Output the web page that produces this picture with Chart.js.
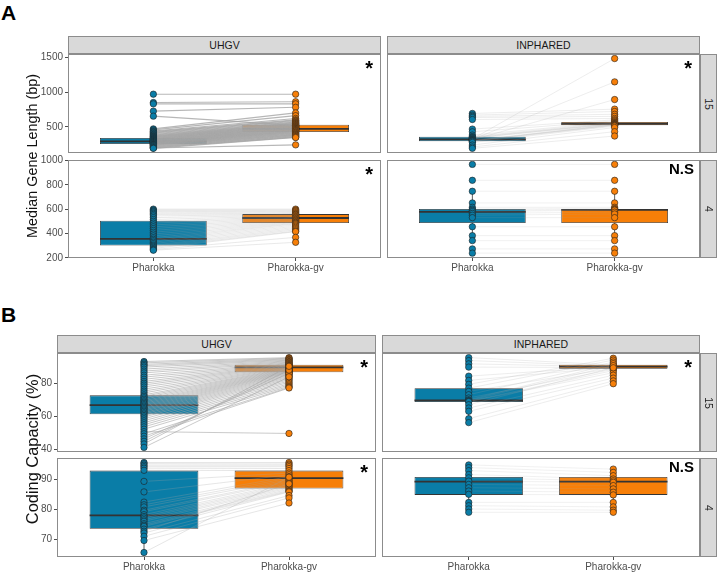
<!DOCTYPE html>
<html>
<head>
<meta charset="utf-8">
<script src="https://cdn.jsdelivr.net/npm/chart.js"></script>
<style>
  body { margin: 0; background: #fff; font-family: "Liberation Sans", Arial, sans-serif; }
  #fig { position: relative; width: 720px; height: 572px; overflow: hidden; }
  #fig canvas { position: absolute; }
  .strip { position: absolute; box-sizing: border-box; background: #d9d9d9; border: 1px solid #8c8c8c;
           color: #1a1a1a; font-size: 10.5px; display: flex; align-items: center; justify-content: center; }
  .strip.side span { display: block; transform: rotate(90deg); }
  .tag { position: absolute; font-weight: bold; font-size: 21px; line-height: 1; color: #000; }
  .ylab { position: absolute; white-space: nowrap; color: #111; line-height: 1;
          transform: translate(-50%, -50%) rotate(-90deg); }
  .sig { position: absolute; font-weight: bold; line-height: 1; color: #000; text-align: right; }
</style>
</head>
<body>
<div id="fig"></div>
<script>
// ---- data ----
const groups = ['Pharokka', 'Pharokka-gv'];
const databases = ['UHGV', 'INPHARED'];
const kmerRows = ['15', '4'];

// A: median gene length (bp)
const aUhgv15Pharokka = [969, 849, 830, 725, 653, 470, 455, 440, 430, 420, 410, 400, 390, 380, 370, 362, 355, 348, 340, 334,
  328, 322, 316, 310, 305, 300, 295, 290, 285, 280, 275, 270, 265, 260, 255, 250, 245, 240, 235, 228, 220, 212, 205, 198, 194, 190];
const aUhgv15Gv = [969, 860, 830, 780, 520, 700, 660, 620, 600, 590, 580, 570, 560, 552, 545, 538, 530, 524, 518, 512,
  506, 500, 494, 488, 482, 476, 470, 464, 458, 452, 446, 440, 434, 428, 420, 412, 404, 396, 388, 380, 372, 364, 356, 350, 240, 345];
const aUhgv4Pharokka = [600, 592, 584, 576, 566, 556, 544, 530, 515, 500, 485, 470, 455, 440, 425, 410, 395, 380, 365, 352,
  340, 328, 316, 304, 295, 286, 276, 268, 262];
const aUhgv4Gv = [600, 592, 585, 578, 570, 563, 557, 551, 545, 539, 533, 527, 521, 515, 509, 503, 497, 491, 485, 479,
  470, 460, 450, 440, 430, 420, 415, 368, 327];
const aInph15Pharokka = [692, 668, 650, 633, 605, 467, 428, 381, 360, 350, 342, 335, 325, 318, 312, 305, 300, 295, 290, 275, 237, 210, 190];
const aInph15Gv = [754, 720, 680, 650, 620, 600, 585, 570, 560, 550, 545, 540, 1482, 1146, 892, 535, 530, 525, 520, 510, 490, 430, 367];
const aInph4Pharokka = [968, 837, 747, 651, 615, 600, 590, 580, 565, 550, 530, 455, 382, 341, 273, 238];
const aInph4Gv = [968, 837, 747, 651, 615, 605, 598, 592, 575, 560, 530, 455, 382, 341, 273, 238];

// B: coding capacity (%)
const bUhgv15Pharokka = [93.3, 92.5, 91.6, 90.8, 89.9, 88.7, 87.5, 86.4, 85.0, 83.8, 82.5, 81.2, 80.1, 79.0, 77.8, 76.5,
  75.3, 74.2, 73.0, 72.1, 71.2, 70.3, 69.4, 68.6, 67.8, 67.0, 66.2, 65.4, 64.6, 63.8, 63.0, 62.1, 61.3, 60.4, 59.5, 58.4,
  57.2, 56.0, 54.8, 53.5, 52.1, 50.6, 49.3, 47.8, 46.2, 44.7, 43.1, 41.0];
const bUhgv15Gv = [95.7, 95.3, 94.9, 94.5, 94.1, 93.7, 93.3, 92.9, 92.5, 92.1, 91.8, 91.5, 91.2, 90.9, 90.6, 90.3,
  90.0, 89.7, 89.4, 89.1, 88.8, 88.5, 88.2, 87.9, 87.6, 87.3, 87.0, 86.7, 86.3, 85.9, 85.4, 84.9, 84.3, 83.7, 83.0, 82.3,
  81.5, 80.7, 79.8, 79.0, 78.2, 49.5, 77.6, 77.2, 86.2, 88.1, 90.4, 84.0];
const bUhgv4Pharokka = [95.5, 95.1, 94.6, 94.1, 93.6, 92.9, 89.2, 85.7, 82.3, 81.4, 80.7, 79.6, 79.1, 78.1, 77.5, 77.0,
  76.4, 75.9, 75.1, 74.6, 74.2, 73.3, 72.6, 72.0, 70.9, 69.5, 65.5];
const bUhgv4Gv = [95.5, 95.0, 94.6, 94.1, 93.5, 92.8, 92.0, 91.4, 90.8, 90.3, 89.8, 89.4, 89.0, 88.6, 88.2, 87.8,
  87.4, 87.0, 86.6, 86.2, 85.9, 85.7, 88.4, 84.5, 83.7, 82.0, 90.6];
const bInph15Pharokka = [95.7, 93.9, 91.9, 89.9, 84.4, 81.8, 79.4, 77.1, 75.1, 73.1, 71.1, 70.0, 69.5, 69.1, 68.9, 67.0, 65.0, 63.0, 58.5, 56.1];
const bInph15Gv = [91.2, 90.6, 90.1, 89.7, 90.3, 89.9, 95.3, 94.2, 89.2, 93.0, 88.6, 92.0, 90.8, 87.8, 86.5, 89.5, 85.0, 83.2, 81.5, 79.8];
const bInph4Pharokka = [94.7, 93.8, 92.8, 91.5, 90.4, 89.3, 88.2, 87.1, 86.0, 84.9, 82.2, 81.1, 80.0, 78.9];
const bInph4Gv = [93.3, 92.2, 91.1, 90.0, 89.4, 88.9, 87.8, 86.7, 85.6, 84.7, 82.2, 80.7, 79.6, 78.9];

// box stats per group: [lower whisker, q1, median, q3, upper whisker]
const aUhgv15Box = [[190, 252, 289, 338, 470], [350, 424, 471, 529, 700]];
const aUhgv4Box = [[262, 300, 355, 504, 600], [415, 486, 527, 559, 600]];
const aInph15Box = [[210, 292, 320, 358, 428], [490, 521, 543, 569, 620]];
const aInph4Box = [[341, 486, 578, 602, 747], [341, 486, 594, 602, 747]];
const bUhgv15Box = [[44.7, 61.2, 66.8, 72.7, 89.9], [80.7, 86.8, 89.8, 91.4, 95.7]];
const bUhgv4Box = [[65.5, 73.4, 77.9, 92.8, 95.5], [82.0, 86.8, 90.3, 92.8, 95.5]];
const bInph15Box = [[58.5, 68.7, 69.6, 77.0, 84.4], [85.0, 88.9, 90.2, 91.4, 94.2]];
const bInph4Box = [[78.9, 84.7, 89.1, 90.7, 94.7], [78.9, 84.7, 89.1, 90.7, 93.3]];

// axis limits and ticks
const aRange15 = [123, 1547], aTicks15 = [500, 1000, 1500];
const aRange4 = [198, 1004], aTicks4 = [200, 400, 600, 800, 1000];
const bRange15 = [38.2, 98.5], bTicks15 = [40, 60, 80];
const bRange4 = [64, 97], bTicks4 = [70, 80, 90];

// significance labels: [UHGV 15, INPHARED 15, UHGV 4, INPHARED 4]
const aSig = ['*', '*', '*', 'N.S'];
const bSig = ['*', '*', '*', 'N.S'];

// ---- styling ----
const FONT = '"Liberation Sans", Arial, sans-serif';
const colors = ['#0a7da7', '#f77f08'];
const PAD = 8, YW = 40, XH = 20;
Chart.defaults.font.family = FONT;

const facets = [
  { pos: [68, 54, 381, 153], y: true, x: false, ph: aUhgv15Pharokka, gv: aUhgv15Gv, box: aUhgv15Box, range: aRange15, ticks: aTicks15, alpha: 0.8, lw: 1.1 },
  { pos: [387, 54, 700, 153], y: false, x: false, ph: aInph15Pharokka, gv: aInph15Gv, box: aInph15Box, range: aRange15, ticks: aTicks15, alpha: 0.25, lw: 0.8 },
  { pos: [68, 160, 381, 258], y: true, x: true, ph: aUhgv4Pharokka, gv: aUhgv4Gv, box: aUhgv4Box, range: aRange4, ticks: aTicks4, alpha: 0.3, lw: 0.8 },
  { pos: [387, 160, 700, 258], y: false, x: true, ph: aInph4Pharokka, gv: aInph4Gv, box: aInph4Box, range: aRange4, ticks: aTicks4, alpha: 0.2, lw: 0.8 },
  { pos: [57, 353, 376, 452], y: true, x: false, ph: bUhgv15Pharokka, gv: bUhgv15Gv, box: bUhgv15Box, range: bRange15, ticks: bTicks15, alpha: 0.65, lw: 0.9 },
  { pos: [382, 353, 700, 452], y: false, x: false, ph: bInph15Pharokka, gv: bInph15Gv, box: bInph15Box, range: bRange15, ticks: bTicks15, alpha: 0.25, lw: 0.8 },
  { pos: [57, 458, 376, 557], y: true, x: true, ph: bUhgv4Pharokka, gv: bUhgv4Gv, box: bUhgv4Box, range: bRange4, ticks: bTicks4, alpha: 0.35, lw: 0.8 },
  { pos: [382, 458, 700, 557], y: false, x: true, ph: bInph4Pharokka, gv: bInph4Gv, box: bInph4Box, range: bRange4, ticks: bTicks4, alpha: 0.2, lw: 0.8 },
];

const fig = document.getElementById('fig');

// grey frame round each panel, drawn over the data like ggplot's panel.border
const panelBorder = {
  id: 'panelBorder',
  afterDatasetsDraw(chart) {
    const { ctx, chartArea: a } = chart;
    ctx.save();
    ctx.strokeStyle = '#8c8c8c';
    ctx.lineWidth = 1;
    ctx.strokeRect(a.left + 0.5, a.top + 0.5, a.width - 1, a.height - 1);
    ctx.restore();
  }
};

function buildDatasets(f) {
  const sets = [];
  // boxes
  sets.push({
    type: 'bar',
    data: f.box.map((b, i) => ({ x: i + 1, y: [b[1], b[3]] })),
    backgroundColor: colors, borderColor: '#333', borderWidth: 0.8, borderSkipped: false,
    barPercentage: 0.75, categoryPercentage: 1, order: 5
  });
  f.box.forEach((b, i) => {
    // whiskers
    sets.push({
      type: 'line',
      data: [{ x: i + 1, y: b[0] }, { x: i + 1, y: b[1] }, { x: i + 1, y: null }, { x: i + 1, y: b[3] }, { x: i + 1, y: b[4] }],
      borderColor: '#333', borderWidth: 0.8, pointRadius: 0, spanGaps: false, order: 4
    });
    // median
    sets.push({
      type: 'line',
      data: [{ x: i + 1 - 0.375, y: b[2] }, { x: i + 1 + 0.375, y: b[2] }],
      borderColor: '#333', borderWidth: 1.8, pointRadius: 0, order: 4
    });
  });
  // paired lines, one dataset each so the overlaps build up
  f.ph.forEach((v, i) => {
    sets.push({
      type: 'line',
      data: [{ x: 1, y: v }, { x: 2, y: f.gv[i] }],
      borderColor: `rgba(165,165,165,${f.alpha})`, borderWidth: f.lw, pointRadius: 0, order: 3
    });
  });
  // points
  [f.ph, f.gv].forEach((vals, i) => {
    sets.push({
      type: 'scatter',
      data: vals.map(v => ({ x: i + 1, y: v })),
      pointRadius: 3.2, pointBackgroundColor: colors[i], pointBorderColor: '#1f1f1f', pointBorderWidth: 0.6,
      order: 1
    });
  });
  return sets;
}

facets.forEach(f => {
  const [l, t, r, b] = f.pos;
  const cl = f.y ? l - YW : l - PAD;
  const ct = t - PAD;
  const cw = r + PAD - cl;
  const ch = (f.x ? b + XH : b + PAD) - ct;
  const canvas = document.createElement('canvas');
  canvas.width = cw; canvas.height = ch;
  canvas.style.left = cl + 'px'; canvas.style.top = ct + 'px';
  canvas.style.width = cw + 'px'; canvas.style.height = ch + 'px';
  fig.appendChild(canvas);

  new Chart(canvas.getContext('2d'), {
    type: 'scatter',
    data: { datasets: buildDatasets(f) },
    options: {
      responsive: false, animation: false, events: [],
      layout: { padding: { left: f.y ? 0 : PAD, right: PAD, top: PAD, bottom: f.x ? 0 : PAD } },
      plugins: { legend: { display: false }, tooltip: { enabled: false } },
      scales: {
        x: {
          type: 'linear', min: 0.4, max: 2.6, display: f.x, offset: false,
          afterBuildTicks: s => { s.ticks = [{ value: 1 }, { value: 2 }]; },
          afterFit: s => { if (s.options.display) s.height = XH; },
          ticks: { callback: v => groups[v - 1] || '', color: '#4d4d4d', font: { size: 10 }, padding: 1, maxRotation: 0, autoSkip: false },
          grid: { offset: false, drawOnChartArea: false, tickLength: 3, color: '#4d4d4d' },
          border: { display: false }
        },
        y: {
          type: 'linear', min: f.range[0], max: f.range[1], display: f.y,
          afterBuildTicks: s => { s.ticks = f.ticks.map(v => ({ value: v })); },
          afterFit: s => { if (s.options.display) s.width = YW; },
          ticks: { callback: v => String(v), color: '#4d4d4d', font: { size: 10 }, padding: 2 },
          grid: { drawOnChartArea: false, tickLength: 3, color: '#4d4d4d' },
          border: { display: false }
        }
      }
    },
    plugins: [panelBorder]
  });
});

// ---- strips, labels and annotations ----
function addEl(cls, style, text) {
  const d = document.createElement('div');
  d.className = cls;
  Object.assign(d.style, style);
  if (cls.includes('side')) {
    const s = document.createElement('span');
    s.textContent = text;
    d.appendChild(s);
  } else {
    d.textContent = text;
  }
  fig.appendChild(d);
  return d;
}

const panels = [
  { stripTop: 36, cols: [[68, 381], [387, 700]], rows: [[54, 153], [160, 258]], sig: aSig },
  { stripTop: 335, cols: [[57, 376], [382, 700]], rows: [[353, 452], [458, 557]], sig: bSig },
];

panels.forEach(p => {
  p.cols.forEach((c, i) => {
    addEl('strip', { left: c[0] + 'px', top: p.stripTop + 'px', width: (c[1] - c[0]) + 'px', height: (p.rows[0][0] - p.stripTop) + 'px' }, databases[i]);
  });
  p.rows.forEach((rw, j) => {
    addEl('strip side', { left: '700px', top: rw[0] + 'px', width: '17px', height: (rw[1] - rw[0]) + 'px' }, kmerRows[j]);
  });
  // significance markers, top-right of each panel
  p.rows.forEach((rw, j) => {
    p.cols.forEach((c, i) => {
      const txt = p.sig[j * 2 + i];
      const ns = txt !== '*';
      addEl('sig', {
        left: (c[1] - 60) + 'px', width: (ns ? 54 : 52) + 'px',
        top: (rw[0] + (ns ? 1 : 4)) + 'px', fontSize: ns ? '15px' : '20px'
      }, txt);
    });
  });
});

addEl('tag', { left: '1px', top: '2px' }, 'A');
addEl('tag', { left: '1px', top: '304px' }, 'B');
addEl('ylab', { left: '32px', top: '156px', fontSize: '14.4px' }, 'Median Gene Length (bp)');
addEl('ylab', { left: '32px', top: '449px', fontSize: '16.4px' }, 'Coding Capacity (%)');
</script>
</body>
</html>
